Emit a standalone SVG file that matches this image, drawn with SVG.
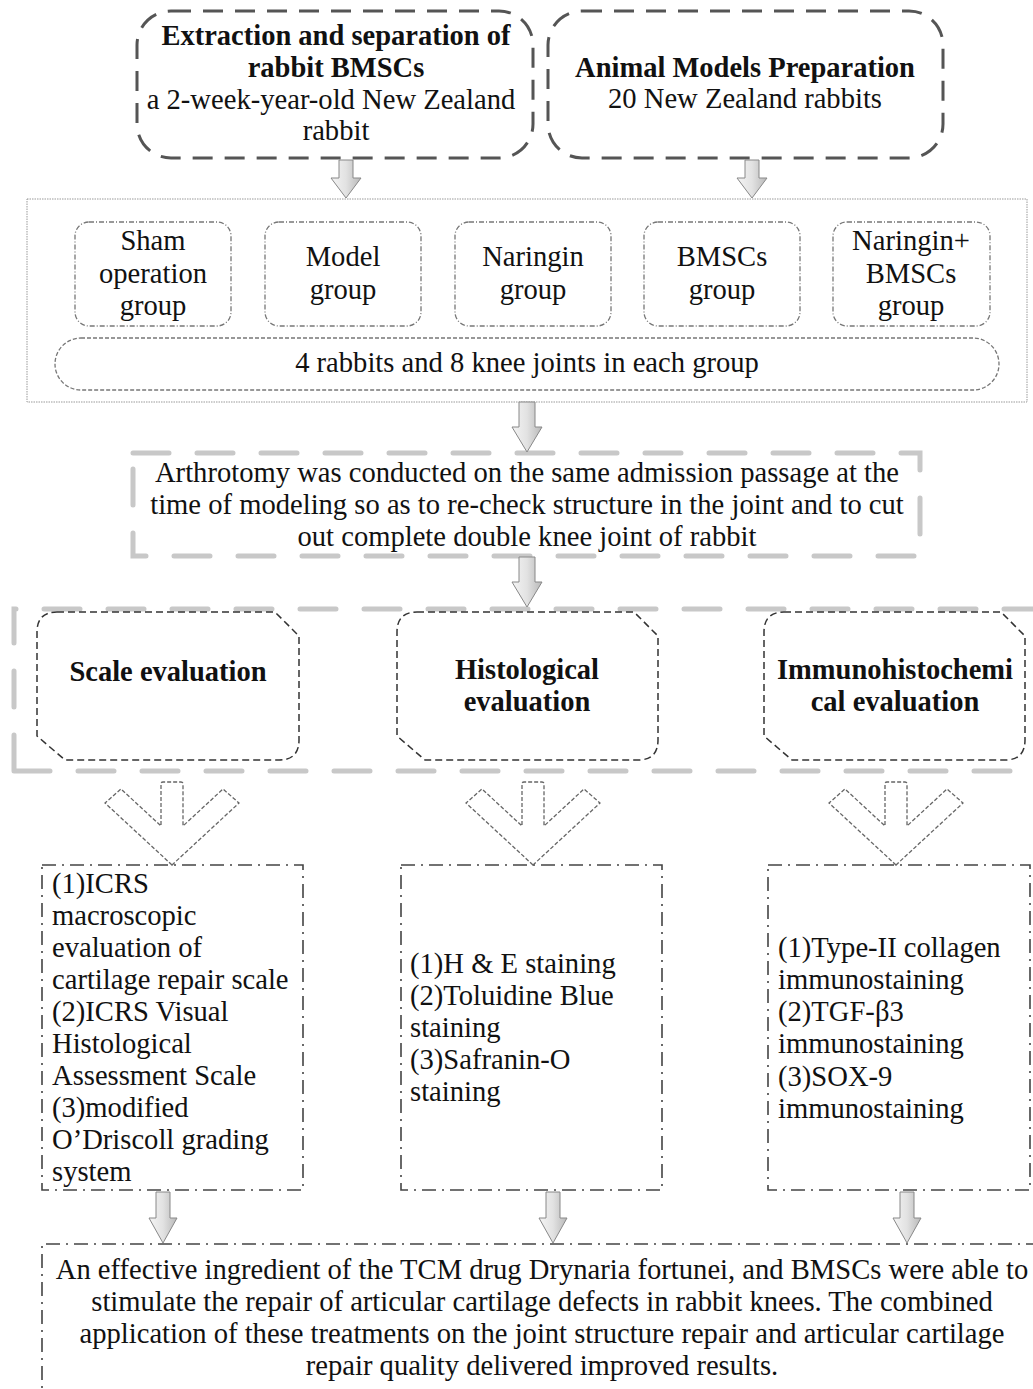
<svg xmlns="http://www.w3.org/2000/svg" width="1033" height="1389" viewBox="0 0 1033 1389">
<defs>
<linearGradient id="ag" x1="0" y1="0" x2="1" y2="0">
<stop offset="0" stop-color="#f4f4f4"/>
<stop offset="0.5" stop-color="#e2e2e2"/>
<stop offset="1" stop-color="#b8b8b8"/>
</linearGradient>
<style>
text{font-family:"Liberation Serif","Times New Roman",serif;font-size:28.6px;fill:#111}
.c{text-anchor:middle}
.b{font-weight:bold;font-size:28.5px}
.top{fill:none;stroke:#555;stroke-width:3;stroke-dasharray:20 12}
.grp{fill:none;stroke:#777;stroke-width:1.3;stroke-dasharray:5 2 1 2}
.pill{fill:none;stroke:#777;stroke-width:1.3;stroke-dasharray:4 2}
.cont{fill:none;stroke:#999;stroke-width:1;stroke-dasharray:1.5 1}
.lg{fill:none;stroke:#c8c8c8;stroke-width:5;stroke-linecap:round;stroke-dasharray:36 28}
.ev{fill:none;stroke:#333;stroke-width:1.5;stroke-dasharray:7 4}
.dd{fill:none;stroke:#444;stroke-width:1.6;stroke-dasharray:14 6 2 6}
.oa{fill:#fff;stroke:#666;stroke-width:1.3;stroke-dasharray:4 2}
.ga{fill:url(#ag);stroke:#888;stroke-width:1}
</style>
</defs>

<g id="box-extraction">
<rect class="top" x="137" y="11" width="396" height="147" rx="34"/>
<text class="c b" x="336" y="45">Extraction and separation of</text>
<text class="c b" x="336" y="77">rabbit BMSCs</text>
<text class="c" x="331" y="109">a 2-week-year-old New Zealand</text>
<text class="c" x="336" y="140">rabbit</text>
</g>

<g id="box-animal">
<rect class="top" x="548" y="11" width="395" height="147" rx="34"/>
<text class="c b" x="745" y="77">Animal Models Preparation</text>
<text class="c" x="745" y="108">20 New Zealand rabbits</text>
</g>

<g id="groups">
<rect class="cont" x="27" y="199" width="1000" height="203"/>
<g id="g-sham">
<rect class="grp" x="75" y="222" width="156" height="104" rx="14"/>
<text class="c" x="153" y="250">Sham</text>
<text class="c" x="153" y="283">operation</text>
<text class="c" x="153" y="315">group</text>
</g>
<g id="g-model">
<rect class="grp" x="265" y="222" width="156" height="104" rx="14"/>
<text class="c" x="343" y="266">Model</text>
<text class="c" x="343" y="299">group</text>
</g>
<g id="g-naringin">
<rect class="grp" x="455" y="222" width="156" height="104" rx="14"/>
<text class="c" x="533" y="266">Naringin</text>
<text class="c" x="533" y="299">group</text>
</g>
<g id="g-bmscs">
<rect class="grp" x="644" y="222" width="156" height="104" rx="14"/>
<text class="c" x="722" y="266">BMSCs</text>
<text class="c" x="722" y="299">group</text>
</g>
<g id="g-combined">
<rect class="grp" x="833" y="222" width="157" height="104" rx="14"/>
<text class="c" x="911" y="250">Naringin+</text>
<text class="c" x="911" y="283">BMSCs</text>
<text class="c" x="911" y="315">group</text>
</g>
<g id="g-each">
<rect class="pill" x="55" y="338" width="944" height="52" rx="26"/>
<text class="c" x="527" y="372">4 rabbits and 8 knee joints in each group</text>
</g>
</g>

<g id="box-arthrotomy">
<rect class="lg" x="133" y="453" width="787" height="103"/>
<text class="c" x="527" y="482">Arthrotomy was conducted on the same admission passage at the</text>
<text class="c" x="527" y="514">time of modeling so as to re-check structure in the joint and to cut</text>
<text class="c" x="527" y="546">out complete double knee joint of rabbit</text>
</g>

<g id="evaluation">
<path class="lg" d="M14 771 V609 H1040 M14 771 H1040"/>
<g id="ev-scale">
<path class="ev" d="M57 612 H275 L299 636 V740 Q299 760 279 760 H65 L37 736 V632 Q37 612 57 612 Z"/>
<text class="c b" x="168" y="681">Scale evaluation</text>
</g>
<g id="ev-hist">
<path class="ev" d="M417 612 H634 L658 636 V740 Q658 760 638 760 H425 L397 736 V632 Q397 612 417 612 Z"/>
<text class="c b" x="527" y="679">Histological</text>
<text class="c b" x="527" y="711">evaluation</text>
</g>
<g id="ev-immuno">
<path class="ev" d="M784 612 H1001 L1025 636 V740 Q1025 760 1005 760 H792 L764 736 V632 Q764 612 784 612 Z"/>
<text class="c b" x="895" y="679">Immunohistochemi</text>
<text class="c b" x="895" y="711">cal evaluation</text>
</g>
</g>

<g id="res-scale">
<rect class="dd" x="42" y="865" width="261" height="325"/>
<text x="52" y="893">(1)ICRS</text>
<text x="52" y="925">macroscopic</text>
<text x="52" y="957">evaluation of</text>
<text x="52" y="989">cartilage repair scale</text>
<text x="52" y="1021">(2)ICRS Visual</text>
<text x="52" y="1053">Histological</text>
<text x="52" y="1085">Assessment Scale</text>
<text x="52" y="1117">(3)modified</text>
<text x="52" y="1149">O’Driscoll grading</text>
<text x="52" y="1181">system</text>
</g>

<g id="res-hist">
<rect class="dd" x="401" y="865" width="261" height="325"/>
<text x="410" y="973">(1)H &amp; E staining</text>
<text x="410" y="1005">(2)Toluidine Blue</text>
<text x="410" y="1037">staining</text>
<text x="410" y="1069">(3)Safranin-O</text>
<text x="410" y="1101">staining</text>
</g>

<g id="res-immuno">
<rect class="dd" x="768" y="865" width="262" height="325"/>
<text x="778" y="957">(1)Type-II collagen</text>
<text x="778" y="989">immunostaining</text>
<text x="778" y="1021">(2)TGF-β3</text>
<text x="778" y="1053">immunostaining</text>
<text x="778" y="1086">(3)SOX-9</text>
<text x="778" y="1118">immunostaining</text>
</g>

<g id="conclusion">
<path class="dd" d="M1040 1244 H42 V1400"/>
<text class="c" x="542" y="1279">An effective ingredient of the TCM drug Drynaria fortunei, and BMSCs were able to</text>
<text class="c" x="542" y="1311">stimulate the repair of articular cartilage defects in rabbit knees. The combined</text>
<text class="c" x="542" y="1343">application of these treatments on the joint structure repair and articular cartilage</text>
<text class="c" x="542" y="1375">repair quality delivered improved results.</text>
</g>

<g id="connectors">
<path class="ga" d="M339 160 H353 V178 H361 L346 198 L331 178 H339 Z"/>
<path class="ga" d="M745 160 H759 V178 H767 L752 198 L737 178 H745 Z"/>
<path class="ga" d="M519 402 H535 V427 H542 L527 452 L512 427 H519 Z"/>
<path class="ga" d="M519 557 H535 V582 H542 L527 607 L512 582 H519 Z"/>
<path class="oa" d="M172 865 L105 803 L121 789 L161 826 V784 Q161 782 163 782 H181 Q183 782 183 784 V826 L223 789 L239 803 Z"/>
<path class="oa" d="M533 865 L466 803 L482 789 L522 826 V784 Q522 782 524 782 H542 Q544 782 544 784 V826 L584 789 L600 803 Z"/>
<path class="oa" d="M896 865 L829 803 L845 789 L885 826 V784 Q885 782 887 782 H905 Q907 782 907 784 V826 L947 789 L963 803 Z"/>
<path class="ga" d="M156 1192 H170 V1218 H177 L163 1243 L149 1218 H156 Z"/>
<path class="ga" d="M546 1192 H560 V1218 H567 L553 1243 L539 1218 H546 Z"/>
<path class="ga" d="M900 1192 H914 V1218 H921 L907 1243 L893 1218 H900 Z"/>
</g>
</svg>
